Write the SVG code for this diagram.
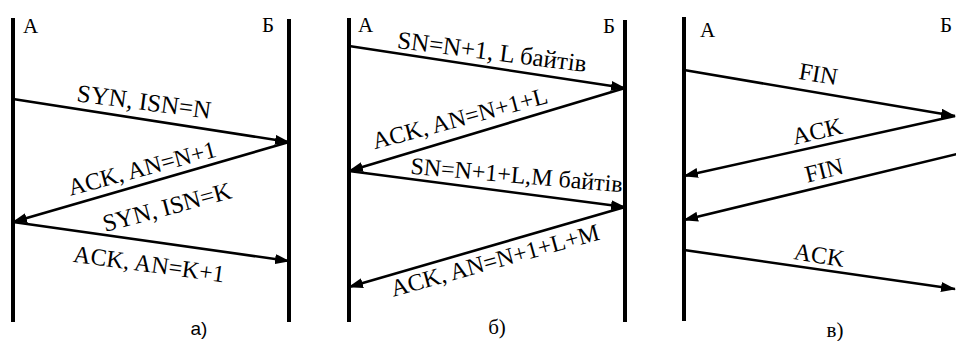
<svg xmlns="http://www.w3.org/2000/svg" width="956" height="341" viewBox="0 0 956 341">
<style>
.life{stroke:#000;stroke-width:4;fill:none}
.msg{stroke:#000;stroke-width:2.6;fill:none;marker-end:url(#ah)}
.n{font-family:"Liberation Serif","Times New Roman",serif;font-size:21px;fill:#000}
.cap{font-family:"Liberation Serif","Times New Roman",serif;font-size:21px;fill:#000;text-anchor:middle}
.capS{font-family:"Liberation Sans",Arial,sans-serif;font-size:19px;fill:#000;text-anchor:middle}
.t{font-family:"Liberation Serif","Times New Roman",serif;font-size:24px;fill:#000;text-anchor:middle}
</style>
<defs>
<marker id="ah" markerUnits="userSpaceOnUse" markerWidth="15" markerHeight="10" refX="14" refY="5" orient="auto">
<path d="M0,0 L15,5 L0,10 z" fill="#000"/>
</marker>
</defs>
<rect width="956" height="341" fill="#fff"/>

<g id="panel-a">
<g id="a-A"><line class="life" x1="13" y1="18" x2="13" y2="322"/><text class="n" x="23" y="33">A</text></g>
<g id="a-B"><line class="life" x1="289" y1="19" x2="289" y2="322"/><text class="n" x="262" y="32">Б</text></g>
<text id="a-cap" class="capS" x="199" y="335">а)</text>
</g>

<g id="panel-b">
<g id="b-A"><line class="life" x1="349" y1="18" x2="349" y2="322"/><text class="n" x="358" y="32">A</text></g>
<g id="b-B"><line class="life" x1="625" y1="20" x2="625" y2="322"/><text class="n" x="603" y="33">Б</text></g>
<text id="b-cap" class="cap" x="497" y="334">б)</text>
</g>

<g id="panel-c">
<g id="c-A"><line class="life" x1="684" y1="17" x2="684" y2="321"/><text class="n" x="700" y="37">A</text></g>
<g id="c-B"><text class="n" x="940" y="32">Б</text></g>
<text id="c-cap" class="cap" x="835" y="337">в)</text>
</g>

<g id="connectors">
<path class="msg" d="M13,99 L289,142"/>
<path class="msg" d="M289,142 L13,222"/>
<path class="msg" d="M13,222 L289,261"/>
<path class="msg" d="M349,46 L625,88"/>
<path class="msg" d="M625,88 L349,171"/>
<path class="msg" d="M349,171 L625,207"/>
<path class="msg" d="M625,207 L349,287"/>
<path class="msg" d="M684,70 L955,116"/>
<path class="msg" d="M955,116 L684,176"/>
<path class="msg" d="M957,154 L684,220"/>
<path class="msg" d="M684,250 L955,289"/>
</g>

<g id="labels">
<text class="t" style="font-size:25px" transform="translate(143,110) rotate(7.5)">SYN, ISN=N</text>
<text class="t" transform="translate(144,176) rotate(-15)">ACK, AN=N+1</text>
<text class="t" style="font-size:24.5px" transform="translate(169,215) rotate(-15)">SYN, ISN=K</text>
<text class="t" transform="translate(148,272) rotate(7.8)">ACK, AN=K+1</text>
<text class="t" style="font-size:25px" transform="translate(491,60) rotate(7.3)">SN=N+1, L байтів</text>
<text class="t" transform="translate(462,126) rotate(-15)">ACK, AN=N+1+L</text>
<text class="t" transform="translate(516,183) rotate(5)">SN=N+1+L,M байтів</text>
<text class="t" transform="translate(497,268) rotate(-15.5)">ACK, AN=N+1+L+M</text>
<text class="t" transform="translate(817,82) rotate(9.5)">FIN</text>
<text class="t" transform="translate(819,139) rotate(-13)">ACK</text>
<text class="t" transform="translate(826,178) rotate(-14)">FIN</text>
<text class="t" transform="translate(818,263) rotate(9)">ACK</text>
</g>
</svg>
